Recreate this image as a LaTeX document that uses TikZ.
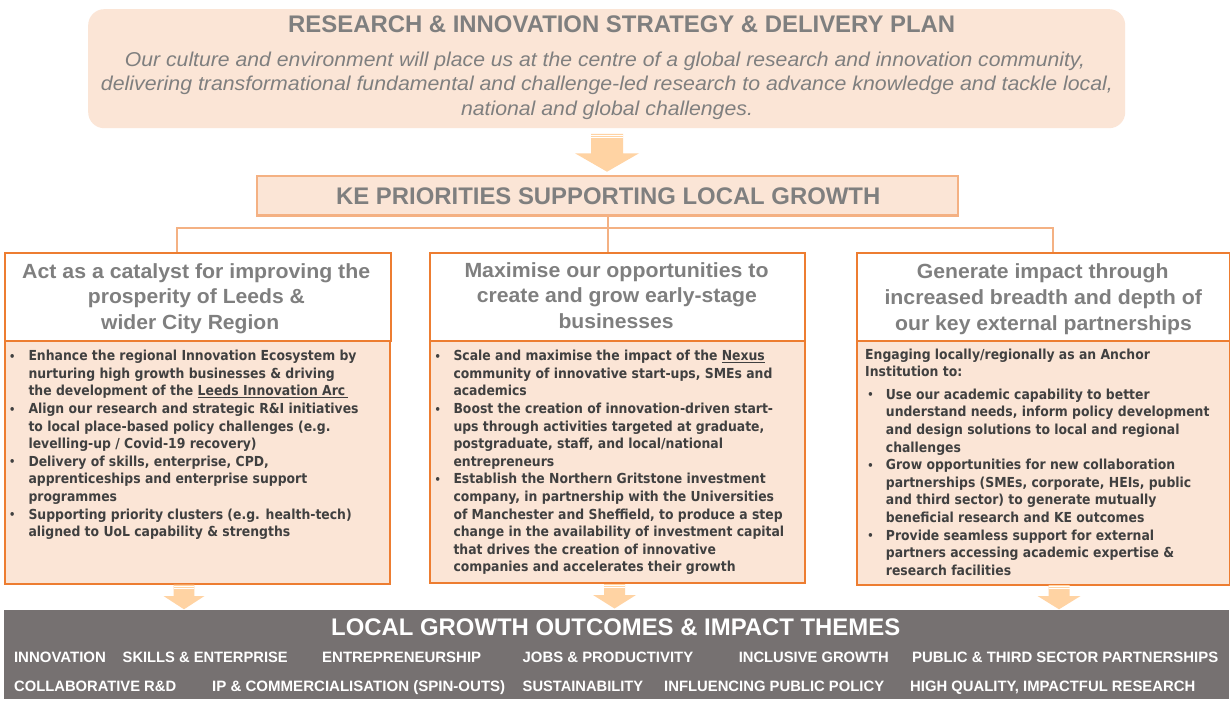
\documentclass[tikz,border=0pt]{standalone}
\usepackage{fontspec}
\usepackage{graphicx}
\setmainfont{Liberation Sans}
\newfontfamily\bodyfont{DejaVu Sans Condensed}
\newcommand\fitw[2]{\resizebox{#1}{\height}{#2}}
\newcommand\bul[2]{\makebox[#2][l]{\hspace{#1}\raisebox{0.4pt}{\fontsize{11}{11}\selectfont\textbullet}}}
\definecolor{peach}{HTML}{FBE5D6}
\definecolor{lorange}{HTML}{F4B183}
\definecolor{dorange}{HTML}{ED7D31}
\definecolor{arrowc}{HTML}{FFD3A3}
\definecolor{tgray}{HTML}{7F7F7F}
\definecolor{bodyc}{HTML}{404040}
\definecolor{boxgray}{HTML}{767171}
\newcommand\dnarrow[6]{%
  \fill[arrowc] (#1-#3,#2) -- (#1+#3,#2) -- (#1+#3,#5) -- (#1+#4,#5) -- (#1,#6) -- (#1-#4,#5) -- (#1-#3,#5) -- cycle;
  \draw[white,line width=0.7pt] (#1-#3,#2+1.7) -- (#1+#3,#2+1.7);
  \draw[white,line width=0.7pt] (#1-#3,#2+3.7) -- (#1+#3,#2+3.7);}
\begin{document}
\begin{tikzpicture}[x=1pt,y=-1pt,
  txt/.style={inner sep=0pt, anchor=base west},
  ttl/.style={txt, font=\fontsize{24}{28}\selectfont\bfseries, text=tgray},
  ital/.style={inner sep=0pt, anchor=base, font=\fontsize{20}{24}\selectfont\itshape, text=tgray},
  hd/.style={txt, font=\fontsize{20.5}{25}\selectfont\bfseries, text=tgray},
  bodytxt/.style={txt, font=\bodyfont\bfseries\fontsize{13.8}{17.6}\selectfont, text=bodyc},
  item/.style={txt, font=\fontsize{15}{18}\selectfont\bfseries, text=white},
  conn/.style={draw=lorange, line width=2pt},
  hdrbox/.style={draw=dorange, line width=2pt, fill=white, inner sep=0pt, anchor=north west},
  bodybox/.style={draw=dorange, line width=2pt, fill=peach, inner sep=0pt, anchor=north west}]
\useasboundingbox (0,0) rectangle (1230,703);
\fill[white] (0,0) rectangle (1230,703);

% top box
\node[fill=peach, rounded corners=16pt, minimum width=1037pt, minimum height=119pt, inner sep=0pt, anchor=north west] (top) at (88,9) {};
\node[ttl] (toptitle) at (288,32.3) {\fitw{667pt}{RESEARCH \& INNOVATION STRATEGY \& DELIVERY PLAN}};
\node[ital] (it1) at (605,66.3) {\fitw{960pt}{Our culture and environment will place us at the centre of a global research and innovation community,}};
\node[ital] (it2) at (607,90.3) {\fitw{1012pt}{delivering transformational fundamental and challenge-led research to advance knowledge and tackle local,}};
\node[ital] (it3) at (607,115.3) {\fitw{292pt}{national and global challenges.}};

% top arrow
\dnarrow{607}{134}{16}{32}{153.3}{171.7}

% KE box
\node[draw=lorange, line width=2.5pt, fill=peach, minimum width=701pt, minimum height=39.5pt, inner sep=0pt] (ke) at (607.5,196) {};
\node[ttl] (ketitle) at (336,204.3) {\fitw{544pt}{KE PRIORITIES SUPPORTING LOCAL GROWTH}};

% column boxes
\node[hdrbox, minimum width=386pt, minimum height=88pt] (h1) at (4,252) {};
\node[bodybox, minimum width=385pt, minimum height=243pt] (b1) at (4,340) {};
\node[hdrbox, minimum width=375pt, minimum height=88pt] (h2) at (429,252) {};
\node[bodybox, minimum width=375pt, minimum height=241.5pt] (b2) at (429,340) {};
\node[hdrbox, minimum width=373pt, minimum height=88pt] (h3) at (856,252) {};
\node[bodybox, minimum width=373pt, minimum height=244pt] (b3) at (856,340) {};

% connectors
\coordinate (j) at (607,228.5);
\coordinate (c1) at (177,252);
\coordinate (c3) at (1053,252);
\draw[conn] (ke.south) -- (ke.south |- h2.north);
\draw[conn] (c1) -- (c1 |- j) -- (c3 |- j) -- (c3);

% headers
\node[hd] (h1a) at (22,278.3) {\fitw{348pt}{Act as a catalyst for improving the}};
\node[hd] (h1b) at (87.7,303.3) {\fitw{217pt}{prosperity of Leeds \&}};
\node[hd] (h1c) at (101,329) {\fitw{178pt}{wider City Region}};
\node[hd] (h2a) at (464.3,277.7) {\fitw{304pt}{Maximise our opportunities to}};
\node[hd] (h2b) at (476.7,302.7) {\fitw{280pt}{create and grow early-stage}};
\node[hd] (h2c) at (558.3,328.3) {\fitw{115pt}{businesses}};
\node[hd] (h3a) at (916.7,278.3) {\fitw{251.6pt}{Generate impact through}};
\node[hd] (h3b) at (884.3,304) {\fitw{317.4pt}{increased breadth and depth of}};
\node[hd] (h3c) at (895,330) {\fitw{296.7pt}{our key external partnerships}};

% body texts
\node[bodytxt] (t1) at (9,360.7) {\begin{tabular}[t]{@{}l@{}l@{}}
\bul{0pt}{19.3pt} & Enhance the regional Innovation Ecosystem by\\
 & nurturing high growth businesses \& driving\\
 & the development of the \underline{Leeds Innovation Arc\,}\\
\bul{0pt}{19.3pt} & Align our research and strategic R\&I initiatives\\
 & to local place-based policy challenges (e.g.\\
 & levelling-up / Covid-19 recovery)\\
\bul{0pt}{19.3pt} & Delivery of skills, enterprise, CPD,\\
 & apprenticeships and enterprise support\\
 & programmes\\
\bul{0pt}{19.3pt} & Supporting priority clusters (e.g. health-tech)\\
 & aligned to UoL capability \& strengths
\end{tabular}};

\node[bodytxt] (t2) at (434.5,360.7) {\begin{tabular}[t]{@{}l@{}l@{}}
\bul{0pt}{18.8pt} & Scale and maximise the impact of the \underline{Nexus}\\
 & community of innovative start-ups, SMEs and\\
 & academics\\
\bul{0pt}{18.8pt} & Boost the creation of innovation-driven start-\\
 & ups through activities targeted at graduate,\\
 & postgraduate, staff, and local/national\\
 & entrepreneurs\\
\bul{0pt}{18.8pt} & Establish the Northern Gritstone investment\\
 & company, in partnership with the Universities\\
 & of Manchester and Sheffield, to produce a step\\
 & change in the availability of investment capital\\
 & that drives the creation of innovative\\
 & companies and accelerates their growth
\end{tabular}};

\node[bodytxt] (t3) at (865,359) {\begin{tabular}[t]{@{}l@{}l@{}}
\multicolumn{2}{@{}l@{}}{Engaging locally/regionally as an Anchor}\\
\multicolumn{2}{@{}l@{}}{Institution to:}\\[5pt]
\bul{2.2pt}{20.7pt} & Use our academic capability to better\\
 & understand needs, inform policy development\\
 & and design solutions to local and regional\\
 & challenges\\
\bul{2.2pt}{20.7pt} & Grow opportunities for new collaboration\\
 & partnerships (SMEs, corporate, HEIs, public\\
 & and third sector) to generate mutually\\
 & beneficial research and KE outcomes\\
\bul{2.2pt}{20.7pt} & Provide seamless support for external\\
 & partners accessing academic expertise \&\\
 & research facilities
\end{tabular}};

% down arrows
\dnarrow{184}{584.7}{10.3}{20.5}{596}{609.3}
\dnarrow{614.5}{584}{10.5}{21.5}{595}{608.5}
\dnarrow{1059}{585}{10.5}{21.5}{596}{609.3}

% bottom box
\node[fill=boxgray, minimum width=1225pt, minimum height=89.5pt, inner sep=0pt, anchor=north west] (out) at (4,609.3) {};
\node[txt, font=\fontsize{24}{28}\selectfont\bfseries, text=white] (outtitle) at (331,635.3) {\fitw{569pt}{LOCAL GROWTH OUTCOMES \& IMPACT THEMES}};
\node[item] (i1) at (13.8,662.7) {\fitw{92pt}{INNOVATION}};
\node[item] (i2) at (122.5,662.7) {\fitw{165pt}{SKILLS \& ENTERPRISE}};
\node[item] (i3) at (322,662.7) {\fitw{159pt}{ENTREPRENEURSHIP}};
\node[item] (i4) at (522.5,662.7) {\fitw{170.5pt}{JOBS \& PRODUCTIVITY}};
\node[item] (i5) at (738.6,662.7) {\fitw{150pt}{INCLUSIVE GROWTH}};
\node[item] (i6) at (912,662.7) {\fitw{306pt}{PUBLIC \& THIRD SECTOR PARTNERSHIPS}};
\node[item] (j1) at (14,691.4) {\fitw{162pt}{COLLABORATIVE R\&D}};
\node[item] (j2) at (212,691.4) {\fitw{293pt}{IP \& COMMERCIALISATION (SPIN-OUTS)}};
\node[item] (j3) at (522.5,691.4) {\fitw{120.5pt}{SUSTAINABILITY}};
\node[item] (j4) at (664,691.4) {\fitw{220pt}{INFLUENCING PUBLIC POLICY}};
\node[item] (j5) at (910,691.4) {\fitw{285pt}{HIGH QUALITY, IMPACTFUL RESEARCH}};
\end{tikzpicture}
\end{document}
